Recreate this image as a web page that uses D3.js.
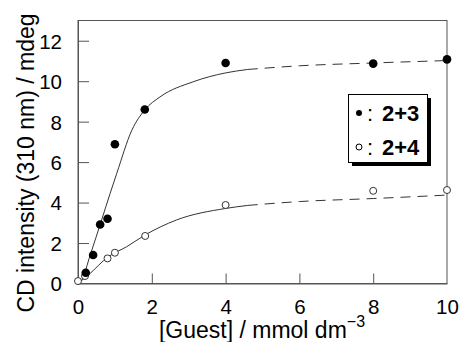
<!DOCTYPE html>
<html>
<head>
<meta charset="utf-8">
<script src="https://cdn.jsdelivr.net/npm/d3@7"></script>
<style>
  html, body { margin: 0; padding: 0; background: #fff; }
  svg { display: block; font-family: "Liberation Sans", Arial, Helvetica, sans-serif; }
</style>
</head>
<body>
<svg id="chart" width="462" height="342"></svg>
<script>
// Guest concentration (mmol dm^-3) and CD intensity at 310 nm (mdeg)
const guest23 = [0.21, 0.41, 0.6, 0.8, 1.0, 1.81, 4.0, 8.0, 10.0];
const cd23    = [0.53, 1.41, 2.92, 3.2, 6.88, 8.6, 10.9, 10.87, 11.08];
const guest24 = [0.0, 0.19, 0.8, 1.0, 1.82, 4.0, 8.0, 10.0];
const cd24    = [0.12, 0.37, 1.24, 1.52, 2.35, 3.88, 4.58, 4.62];

// Fitted titration curves: solid over the measured range, dashed beyond it
const fit23SolidX  = [0, 0.1, 0.33, 0.64, 0.87, 1.05, 1.46, 1.81, 2.22, 3.12, 4.0, 4.6];
const fit23SolidY  = [0, 0.17, 1.4, 3.14, 4.45, 5.44, 7.58, 8.58, 9.22, 9.97, 10.41, 10.58];
const fit23DashX   = [4.6, 6.0, 8.0, 10.0];
const fit23DashY   = [10.58, 10.76, 10.9, 11.02];
const fit24SolidX  = [0, 0.28, 0.82, 1.32, 1.82, 2.67, 4.0, 4.6];
const fit24SolidY  = [0, 0.42, 1.32, 1.82, 2.4, 3.14, 3.71, 3.86];
const fit24DashX   = [4.6, 6.0, 8.0, 10.0];
const fit24DashY   = [3.86, 4.05, 4.2, 4.37];

const xTicks = [0, 2, 4, 6, 8, 10];
const yTicks = [0, 2, 4, 6, 8, 10, 12];
const legendLabels = ["2+3", "2+4"];

const svg = d3.select("#chart");
const plot = { left: 78, right: 447, top: 20.5, bottom: 283.5 };

const x = d3.scaleLinear().domain([0, 10]).range([plot.left, plot.right]);
const y = d3.scaleLinear().domain([0, 13]).range([plot.bottom, plot.top]);

const frameColor = "#555";

// plot frame
svg.append("rect")
  .attr("x", plot.left).attr("y", plot.top)
  .attr("width", plot.right - plot.left).attr("height", plot.bottom - plot.top)
  .attr("fill", "none").attr("stroke", frameColor).attr("stroke-width", 1);

// axes with inward ticks
const xAxis = svg.append("g")
  .attr("transform", `translate(0,${plot.bottom})`)
  .call(d3.axisBottom(x).tickValues(xTicks).tickSizeInner(-10).tickSizeOuter(0).tickPadding(16).tickFormat(d3.format("d")));
const yAxis = svg.append("g")
  .attr("transform", `translate(${plot.left},0)`)
  .call(d3.axisLeft(y).tickValues(yTicks).tickSizeInner(-11).tickSizeOuter(0).tickPadding(16).tickFormat(d3.format("d")));

[xAxis, yAxis].forEach(g => {
  g.select(".domain").attr("stroke", frameColor);
  g.selectAll(".tick line").attr("stroke", frameColor);
  g.selectAll(".tick text")
    .attr("font-size", 20.5)
    .attr("fill", "#000")
    .attr("font-family", "'Liberation Sans', Arial, sans-serif");
});
yAxis.selectAll(".tick text").attr("dy", "0.36em");
// drop the tick marks that sit on the frame corners
xAxis.selectAll(".tick").filter(d => d === 0 || d === 10).select("line").remove();
yAxis.selectAll(".tick").filter(d => d === 0).select("line").remove();

// fitted curves
const line = d3.line().x(d => x(d[0])).y(d => y(d[1])).curve(d3.curveMonotoneX);
const curves = [
  { xs: fit23SolidX, ys: fit23SolidY, dash: null },
  { xs: fit23DashX,  ys: fit23DashY,  dash: "10,7" },
  { xs: fit24SolidX, ys: fit24SolidY, dash: null },
  { xs: fit24DashX,  ys: fit24DashY,  dash: "10,7" }
];
curves.forEach(c => {
  svg.append("path")
    .datum(d3.zip(c.xs, c.ys))
    .attr("d", line)
    .attr("fill", "none")
    .attr("stroke", "#333")
    .attr("stroke-width", 1)
    .attr("stroke-dasharray", c.dash);
});

// data points
svg.append("g").selectAll("circle")
  .data(d3.zip(guest24, cd24))
  .join("circle")
  .attr("cx", d => x(d[0])).attr("cy", d => y(d[1]))
  .attr("r", 3.5)
  .attr("fill", "#fff").attr("stroke", "#333").attr("stroke-width", 1);

svg.append("g").selectAll("circle")
  .data(d3.zip(guest23, cd23))
  .join("circle")
  .attr("cx", d => x(d[0])).attr("cy", d => y(d[1]))
  .attr("r", 4.3)
  .attr("fill", "#000");

// axis titles
svg.append("text")
  .attr("transform", "translate(34,163) rotate(-90)")
  .attr("text-anchor", "middle")
  .attr("font-size", 23)
  .attr("fill", "#000")
  .text("CD intensity (310 nm) / mdeg");

const xt = svg.append("text")
  .attr("x", 262).attr("y", 338)
  .attr("text-anchor", "middle")
  .attr("font-size", 23)
  .attr("fill", "#000");
xt.append("tspan").text("[Guest] / mmol dm");
xt.append("tspan").attr("dy", -11).attr("font-size", 16).text("\u22123");

// legend with drop shadow
const lg = svg.append("g");
lg.append("rect").attr("x", 352).attr("y", 98).attr("width", 79).attr("height", 68).attr("fill", "#000");
lg.append("rect").attr("x", 348.5).attr("y", 94.5).attr("width", 79).attr("height", 68)
  .attr("fill", "#fff").attr("stroke", "#000").attr("stroke-width", 1);

const rowY = [113, 147];
lg.append("circle").attr("cx", 359).attr("cy", rowY[0]).attr("r", 3).attr("fill", "#000");
lg.append("circle").attr("cx", 359).attr("cy", rowY[1]).attr("r", 3).attr("fill", "#fff").attr("stroke", "#000");
legendLabels.forEach((lab, i) => {
  const t = lg.append("text").attr("x", 367).attr("y", rowY[i] + 7.5).attr("font-size", 22).attr("fill", "#000");
  t.append("tspan").text(":");
  t.append("tspan").attr("font-weight", "bold").attr("x", 382).text(lab);
});
</script>
</body>
</html>
